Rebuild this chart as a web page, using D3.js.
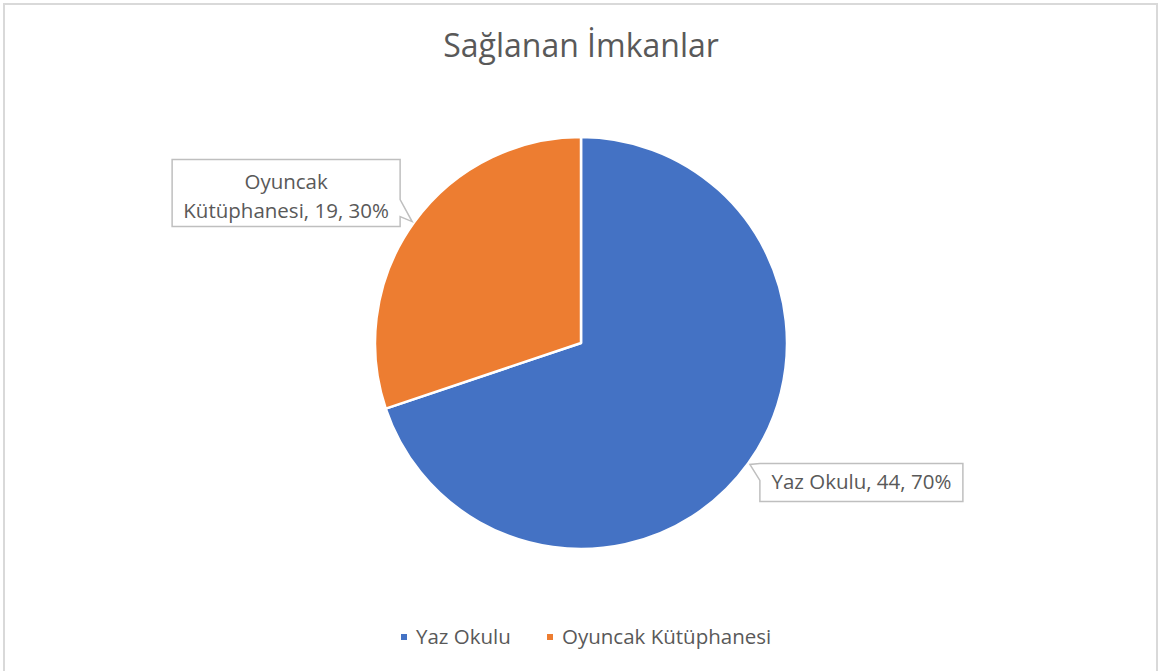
<!DOCTYPE html>
<html>
<head>
<meta charset="utf-8">
<script src="https://cdn.jsdelivr.net/npm/d3@7"></script>
<style>
	html, body { margin: 0; padding: 0; background: #fff; }
	svg { display: block; font-family: "Open Sans", Lato, sans-serif; }
</style>
</head>
<body>
<svg id="chart" width="1163" height="671"></svg>
<script>
// chart data
var title = 'Sağlanan İmkanlar';
var categories = ['Yaz Okulu', 'Oyuncak Kütüphanesi'];
var values = [44, 19];
var labelLines = [['Yaz Okulu, 44, 70%'], ['Oyuncak', 'Kütüphanesi, 19, 30%']];

(function() {
	'use strict';

	var cx = 581, cy = 343, r = 206;
	var textColor = '#595959';
	var labelSize = 20.5;
	var colors = d3.scaleOrdinal().domain(categories).range(['#4472c4', '#ed7d31']);

	var svg = d3.select('#chart');

	// outer frame
	svg.append('rect')
		.attr('x', 4).attr('y', 4)
		.attr('width', 1153).attr('height', 680)
		.attr('fill', '#fff')
		.attr('stroke', '#d9d9d9')
		.attr('stroke-width', 2);

	svg.append('text')
		.attr('x', cx).attr('y', 57)
		.attr('text-anchor', 'middle')
		.attr('font-size', 32)
		.attr('fill', textColor)
		.text(title);

	var data = categories.map(function(c, i) { return { name: c, value: values[i], lines: labelLines[i] }; });

	var pie = d3.pie().sort(null).value(function(d) { return d.value; });
	var arc = d3.arc().innerRadius(0).outerRadius(r);
	var arcs = pie(data);

	var g = svg.append('g').attr('transform', 'translate(' + cx + ',' + cy + ')');

	g.selectAll('path.slice')
		.data(arcs)
		.enter().append('path')
		.attr('class', 'slice')
		.attr('d', arc)
		.attr('fill', function(d) { return colors(d.data.name); })
		.attr('stroke', '#fff')
		.attr('stroke-width', 2.5)
		.attr('stroke-linejoin', 'round');

	// callout labels
	var tipArc = d3.arc().innerRadius(r + 2).outerRadius(r + 2);
	var lineH = 29;

	arcs.forEach(function(d) {
		var tip = tipArc.centroid(d);
		var tx = tip[0] + cx, ty = tip[1] + cy;
		var right = tx > cx;
		var nLines = d.data.lines.length;
		var bw = right ? 203 : 228;
		var bh = nLines === 1 ? 38 : 67;
		var L, T, R, B, p;
		if (right) {
			L = tx + 10; T = ty - 1; R = L + bw; B = T + bh;
			p = [[L, T], [R, T], [R, B], [L, B], [L, T + 17], [tx, ty], [L, T]];
		} else {
			R = tx - 12; B = ty + 5; L = R - bw; T = B - bh;
			p = [[L, T], [R, T], [R, ty - 22], [tx, ty], [R, ty - 5], [R, B], [L, B], [L, T]];
		}
		svg.append('path')
			.attr('d', d3.line()(p) + 'Z')
			.attr('fill', '#fff')
			.attr('stroke', '#bfbfbf')
			.attr('stroke-width', 1.5);

		var off = nLines === 1 ? 7 : 10;
		var t = svg.append('text')
			.attr('text-anchor', 'middle')
			.attr('font-size', labelSize)
			.attr('fill', textColor);
		d.data.lines.forEach(function(s, i) {
			t.append('tspan')
				.attr('x', (L + R) / 2)
				.attr('y', (T + B) / 2 + off - (nLines - 1) * lineH / 2 + i * lineH)
				.text(s);
		});
	});

	// legend
	var legendX = [401, 547];
	var legend = svg.selectAll('g.legend')
		.data(categories)
		.enter().append('g')
		.attr('class', 'legend')
		.attr('transform', function(d, i) { return 'translate(' + legendX[i] + ',634)'; });

	legend.append('rect')
		.attr('width', 6).attr('height', 6)
		.attr('fill', function(d) { return colors(d); });

	legend.append('text')
		.attr('x', 15).attr('y', 9.5)
		.attr('font-size', labelSize)
		.attr('fill', textColor)
		.text(function(d) { return d; });
})();
</script>
</body>
</html>
